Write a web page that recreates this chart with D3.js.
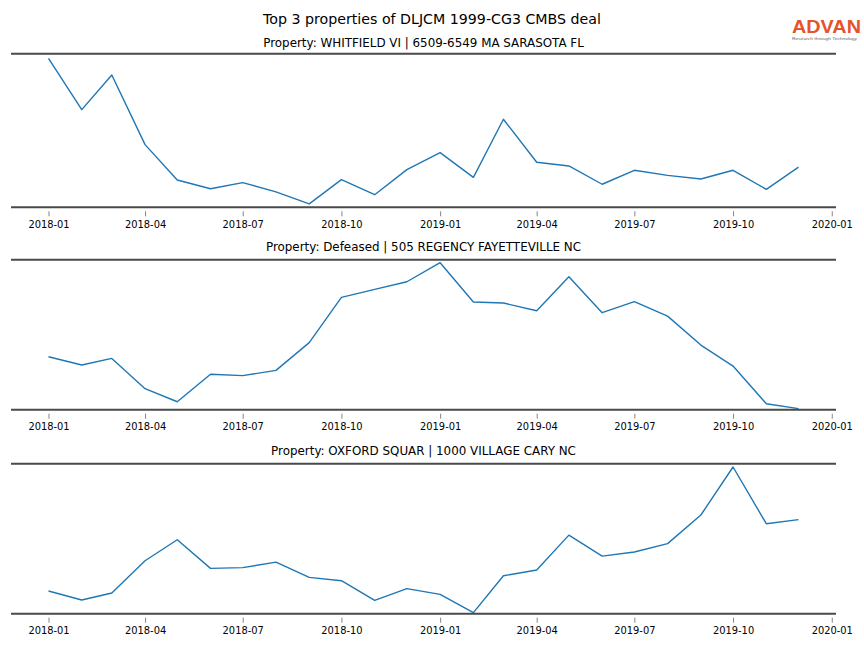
<!DOCTYPE html>
<html>
<head>
<meta charset="utf-8">
<script src="https://cdn.jsdelivr.net/npm/d3@7"></script>
<style>
  html, body { margin: 0; padding: 0; background: #fff; }
  svg { display: block; font-family: "DejaVu Sans", sans-serif; }
</style>
</head>
<body>
<svg id="chart" width="864" height="648"></svg>
<script>
// ---- Data (monthly, relative index values) ----
const months = ["2018-01","2018-02","2018-03","2018-04","2018-05","2018-06",
                "2018-07","2018-08","2018-09","2018-10","2018-11","2018-12",
                "2019-01","2019-02","2019-03","2019-04","2019-05","2019-06",
                "2019-07","2019-08","2019-09","2019-10","2019-11","2019-12"];

const whitfieldValues = [97.0, 63.6, 86.1, 40.8, 17.8, 12.1, 16.1, 10.0, 2.2, 18.0, 8.2, 24.5,
                         35.6, 19.5, 57.3, 29.3, 26.9, 15.0, 24.1, 20.8, 18.4, 24.1, 11.7, 26.2];
const defeasedValues  = [35.3, 29.8, 34.2, 14.0, 5.3, 23.6, 22.7, 26.2, 44.7, 74.9, 80.2, 85.3,
                         98.0, 71.8, 71.1, 66.0, 88.7, 64.7, 72.0, 62.4, 43.1, 29.1, 4.0, 0.7];
const oxfordValues    = [15.1, 9.1, 13.8, 35.3, 49.3, 30.2, 30.7, 34.4, 24.2, 22.0, 8.9, 16.7,
                         12.9, 0.7, 25.3, 29.1, 52.4, 38.4, 41.1, 46.7, 65.8, 97.8, 60.0, 62.7];

const panelTitles = [
  "Property: WHITFIELD VI | 6509-6549 MA SARASOTA FL",
  "Property: Defeased | 505 REGENCY FAYETTEVILLE NC",
  "Property: OXFORD SQUAR | 1000 VILLAGE CARY NC"
];
const panelSeries = [whitfieldValues, defeasedValues, oxfordValues];
const mainTitle = "Top 3 properties of DLJCM 1999-CG3 CMBS deal";
const tickFormat = "%Y-%m";

// ---- Layout ----
const svg = d3.select("#chart");
const W = 864;
const left = 11, right = 836;
const panels = [
  {top: 53.7, bottom: 207.3, titleY: 47},
  {top: 259.7, bottom: 409.7, titleY: 251},
  {top: 463.7, bottom: 613.7, titleY: 455}
];

const parse = d3.utcParse("%Y-%m");
const dates = months.map(parse);
const first = dates[0], last = dates[dates.length - 1];
const span = last - first;
const pad = span * 0.05;
const x = d3.scaleUtc()
  .domain([new Date(+first - pad), new Date(+last + pad)])
  .range([left, right]);

const tickDates = d3.utcMonth.every(3).range(parse("2018-01"), d3.utcDay.offset(parse("2020-01"), 1));
const fmt = d3.utcFormat(tickFormat);

// Main title
svg.append("text")
  .attr("x", W / 2).attr("y", 24)
  .attr("text-anchor", "middle")
  .attr("font-size", 14.2)
  .attr("fill", "#000")
  .text(mainTitle);

// Logo
svg.append("text")
  .attr("x", 792).attr("y", 33.2)
  .attr("font-family", "Liberation Sans, Arial, sans-serif")
  .attr("font-weight", "bold")
  .attr("font-size", 17.5)
  .attr("fill", "#e4532b")
  .attr("textLength", 69)
  .attr("lengthAdjust", "spacingAndGlyphs")
  .text("ADVAN");
svg.append("text")
  .attr("x", 792).attr("y", 39.5)
  .attr("font-family", "Liberation Sans, Arial, sans-serif")
  .attr("font-size", 4.4)
  .attr("fill", "#666")
  .attr("textLength", 65)
  .attr("lengthAdjust", "spacingAndGlyphs")
  .text("Research through Technology");

panels.forEach((p, i) => {
  const y = d3.scaleLinear().domain([0, 100]).range([p.bottom, p.top]);
  const g = svg.append("g");

  // subplot title
  g.append("text")
    .attr("x", (left + right) / 2).attr("y", p.titleY)
    .attr("text-anchor", "middle")
    .attr("font-size", 11.9)
    .attr("fill", "#000")
    .text(panelTitles[i]);

  // x axis ticks and labels
  const axis = d3.axisBottom(x)
    .tickValues(tickDates)
    .tickFormat(fmt)
    .tickSize(0)
    .tickPadding(0);
  const ag = g.append("g")
    .attr("transform", `translate(0,${p.bottom})`)
    .call(axis);
  ag.select(".domain").remove();
  ag.selectAll(".tick").append("line")
    .attr("y1", 4).attr("y2", 9)
    .attr("stroke", "#666").attr("stroke-width", 0.8);
  ag.selectAll(".tick text")
    .attr("y", 20.8)
    .attr("dy", 0)
    .attr("font-family", "DejaVu Sans, sans-serif")
    .attr("font-size", 9.9)
    .attr("fill", "#000");

  // line
  const line = d3.line()
    .x((d, j) => x(dates[j]))
    .y(d => y(d));
  g.append("path")
    .datum(panelSeries[i])
    .attr("fill", "none")
    .attr("stroke", "#1f77b4")
    .attr("stroke-width", 1.4)
    .attr("stroke-linejoin", "round")
    .attr("d", line);

  // top and bottom spines
  [p.top, p.bottom].forEach(yy => {
    g.append("line")
      .attr("x1", left).attr("x2", right)
      .attr("y1", yy).attr("y2", yy)
      .attr("stroke", "#4a4a4a")
      .attr("stroke-width", 2);
  });
});
</script>
</body>
</html>
